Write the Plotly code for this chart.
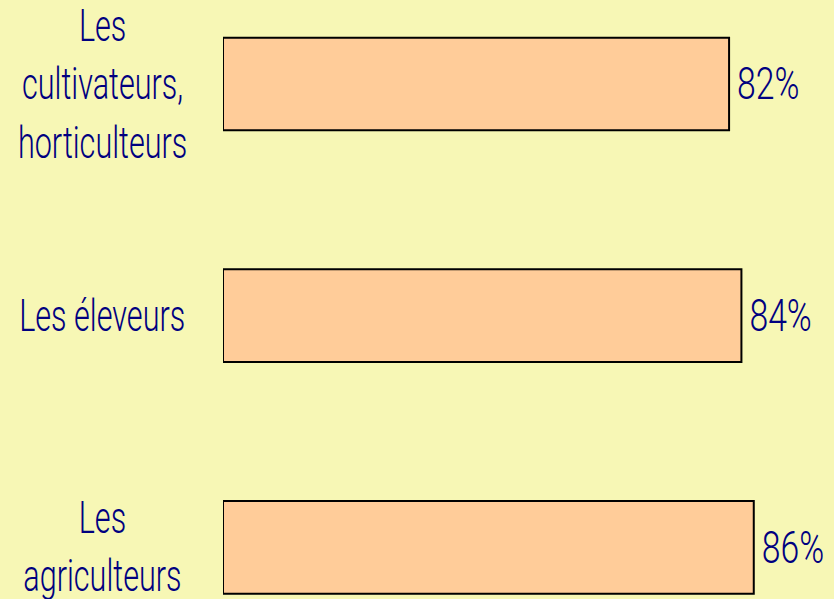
import plotly.graph_objects as go

categories = ["Les<br>cultivateurs,<br>horticulteurs", "Les éleveurs", "Les<br>agriculteurs"]
values = [82, 84, 86]

FONT = "Roboto, sans-serif"
NAVY = "#000080"

fig = go.Figure(go.Bar(
    x=values, y=categories, orientation="h",
    marker=dict(color="#FFCC99", line=dict(color="#000000", width=2)),
    width=0.40,
    text=[f"{v}%" for v in values], textposition="outside",
    textfont=dict(family=FONT, size=45, color=NAVY, weight=300),
    constraintext="none",
    cliponaxis=False,
))

for c in categories:
    fig.add_annotation(x=-0.198, xref="paper", y=c, yref="y", text=c, showarrow=False,
                       align="center", xanchor="center",
                       font=dict(family=FONT, size=45, color=NAVY, weight=300))

fig.update_layout(
    width=834, height=599,
    margin=dict(l=223, r=0, t=0, b=0),
    paper_bgcolor="#F7F7B5", plot_bgcolor="#F7F7B5",
    showlegend=False,
    xaxis=dict(range=[0, 99], visible=False),
    yaxis=dict(type="category", categoryarray=categories, range=[2.2227, -0.3625],
               showticklabels=False, showgrid=False, zeroline=False, showline=False),
)

post = """
document.body.style.margin='0';
var gd = document.getElementById('{plot_id}');
function squeeze(){
  gd.querySelectorAll('text.annotation-text').forEach(function(t){
    var b=t.getBBox(); var cx=b.x+b.width/2, cy=b.y+b.height/2;
    t.setAttribute('transform','translate('+cx+','+cy+') scale(0.68,1) translate('+(-cx)+','+(-cy)+')');
  });
  gd.querySelectorAll('text.bartext').forEach(function(t){
    var b=t.getBBox(); var tr=t.getAttribute('transform')||'';
    t.setAttribute('transform', tr+' translate('+(b.x+5)+',0) scale(0.75,1) translate('+(-b.x)+',0)');
  });
}
squeeze();
"""
fig.write_html("out.html", post_script=post, config={"displayModeBar": False})
